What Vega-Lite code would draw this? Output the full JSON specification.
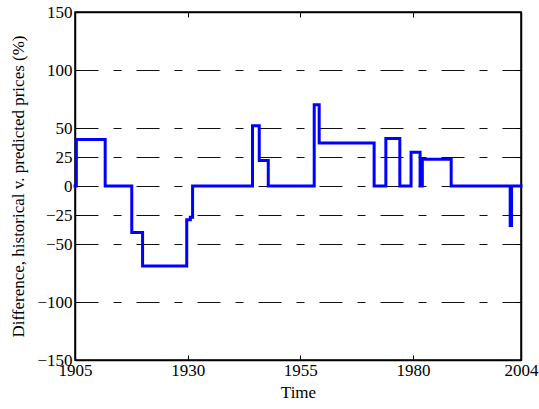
{
  "$schema": "https://vega.github.io/schema/vega-lite/v6.json",
  "width": 446,
  "height": 348,
  "autosize": {"type": "none"},
  "padding": {"left": 75, "top": 12, "right": 18, "bottom": 49},
  "background": "white",
  "config": {
    "view": {"stroke": "black", "strokeWidth": 1.5},
    "axis": {
      "labelFont": "Liberation Serif",
      "titleFont": "Liberation Serif",
      "labelFontSize": 17,
      "titleFontSize": 17,
      "titleFontWeight": "normal",
      "labelColor": "black",
      "titleColor": "black",
      "domainColor": "black",
      "domainWidth": 1.5,
      "tickColor": "black",
      "tickWidth": 1
    }
  },
  "data": {
    "values": [
      {"year": 1905.0, "diff": 0},
      {"year": 1905.3, "diff": 40},
      {"year": 1911.7, "diff": 0},
      {"year": 1917.6, "diff": -40},
      {"year": 1920.0, "diff": -69},
      {"year": 1929.8, "diff": -29},
      {"year": 1930.6, "diff": -27},
      {"year": 1931.1, "diff": 0},
      {"year": 1944.4, "diff": 52},
      {"year": 1945.9, "diff": 22},
      {"year": 1947.9, "diff": 0},
      {"year": 1958.1, "diff": 70},
      {"year": 1959.2, "diff": 37},
      {"year": 1971.4, "diff": 0},
      {"year": 1974.0, "diff": 41},
      {"year": 1977.1, "diff": 0},
      {"year": 1979.6, "diff": 29},
      {"year": 1981.6, "diff": 0},
      {"year": 1982.1, "diff": 23},
      {"year": 1988.5, "diff": 0},
      {"year": 2001.6, "diff": -34},
      {"year": 2001.9, "diff": 0},
      {"year": 2004.0, "diff": 0}
    ]
  },
  "resolve": {"axis": {"x": "independent", "y": "independent"}},
  "layer": [
    {
      "mark": {"type": "line", "interpolate": "step-after", "color": "#0000FF", "strokeWidth": 3, "strokeJoin": "miter", "strokeCap": "square"},
      "encoding": {
        "x": {
          "field": "year", "type": "quantitative",
          "scale": {"domain": [1905, 2004], "nice": false, "zero": false},
          "axis": {"orient": "bottom", "title": "Time", "values": [1905, 1930, 1955, 1980, 2004], "format": "d", "grid": false, "tickSize": -5, "labelPadding": 7, "titlePadding": 6, "labelFlush": false, "labelOverlap": false}
        },
        "y": {
          "field": "diff", "type": "quantitative",
          "scale": {"domain": [-150, 150], "nice": false},
          "axis": {"orient": "left", "title": "Difference, historical v. predicted prices (%)", "values": [-150, -100, -50, -25, 0, 25, 50, 100, 150], "grid": true, "gridColor": "#111", "gridWidth": 1, "gridDash": [23, 15, 8, 15], "tickSize": -5, "labelPadding": 8, "titlePadding": 9, "labelOverlap": false, "labelFlush": false}
        }
      }
    },
    {
      "mark": {"type": "line", "interpolate": "step-after", "opacity": 0},
      "encoding": {
        "x": {
          "field": "year", "type": "quantitative",
          "axis": {"orient": "top", "title": null, "labels": false, "values": [1905, 1930, 1955, 1980, 2004], "grid": false, "tickSize": -5}
        },
        "y": {
          "field": "diff", "type": "quantitative",
          "axis": {"orient": "right", "title": null, "labels": false, "values": [-150, -100, -50, -25, 0, 25, 50, 100, 150], "grid": false, "tickSize": -5}
        }
      }
    }
  ]
}
